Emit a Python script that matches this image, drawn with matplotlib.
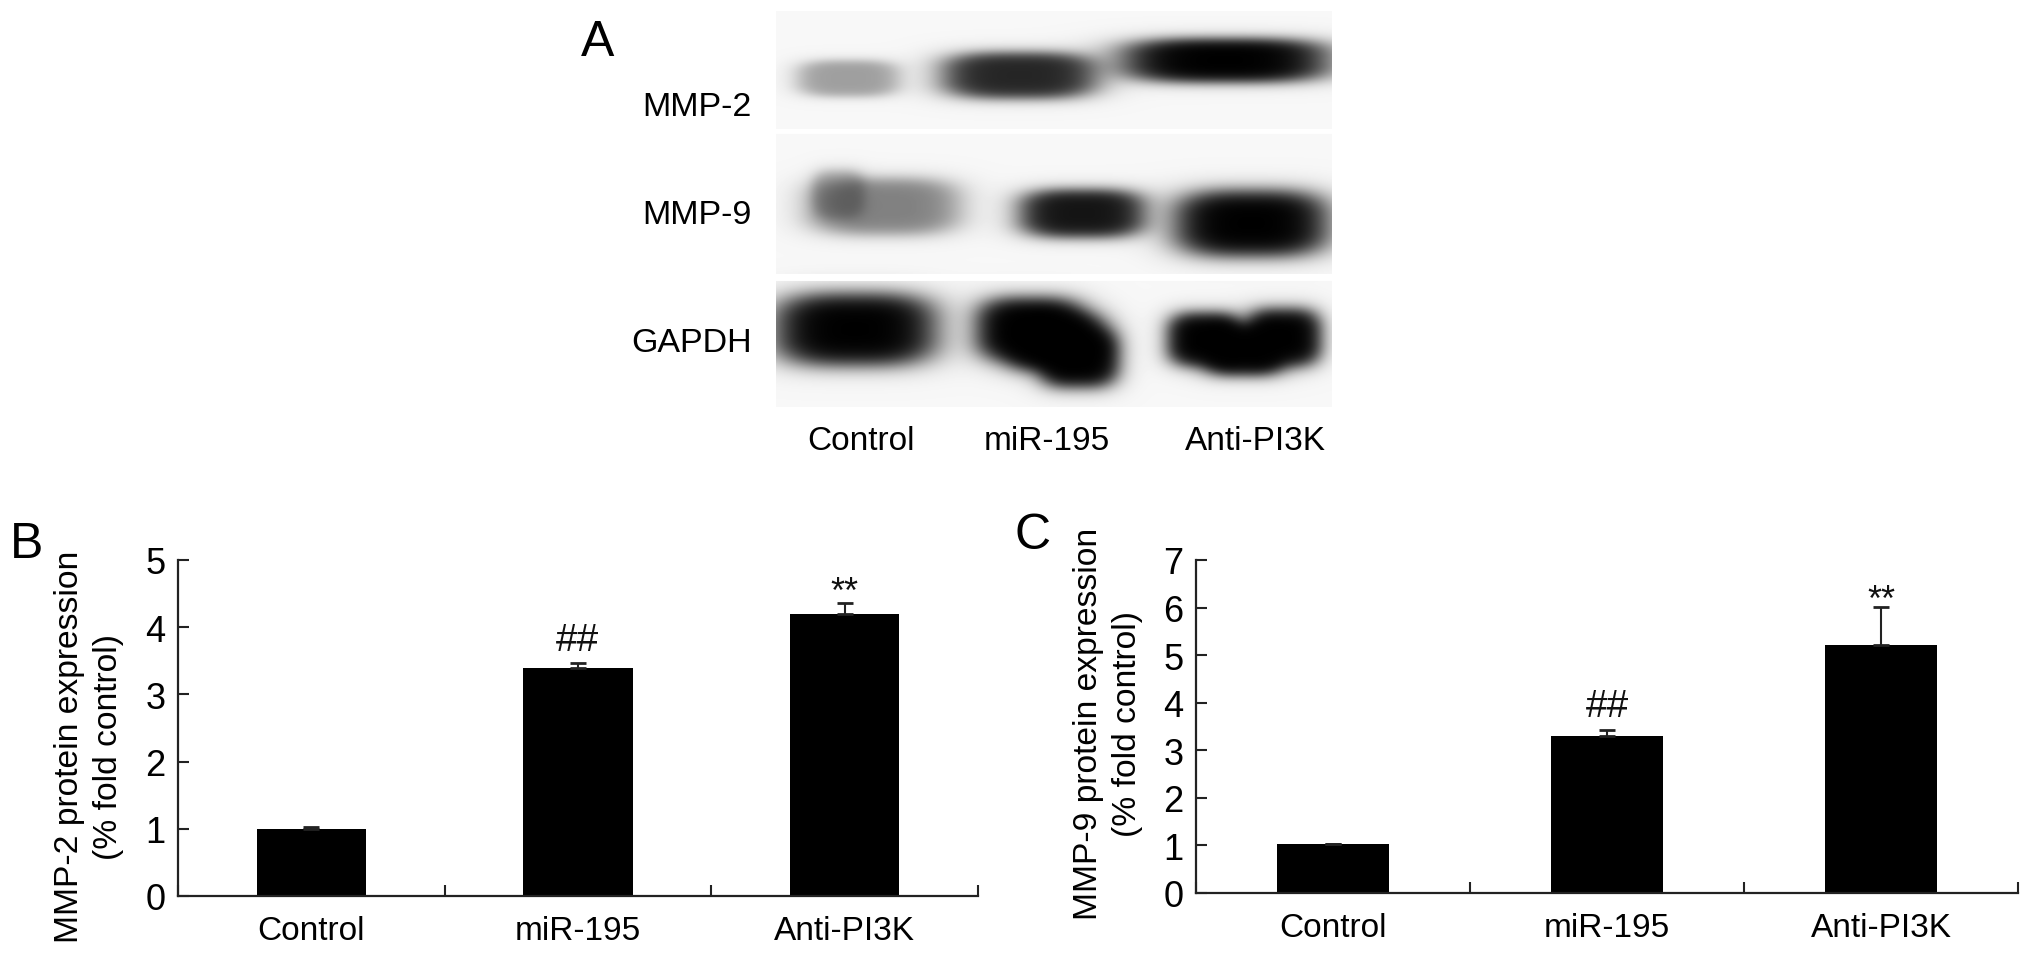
import matplotlib
matplotlib.use('Agg')
import matplotlib.pyplot as plt
import numpy as np

plt.rcParams['font.family'] = ['Liberation Sans', 'DejaVu Sans']

W, H = 2032, 954

groups = ['Control', 'miR-195', 'Anti-PI3K']

mmp2_vals = [1.0, 3.39, 4.19]
mmp2_err = [0.03, 0.08, 0.17]
mmp9_vals = [1.02, 3.31, 5.22]
mmp9_err = [0.0, 0.12, 0.79]

# band blobs of the blot, in figure pixels: x, y, half width, half height, darkness
mmp2_bands = [(848, 79, 50, 18, 0.36),
              (1019, 76, 76, 23, 0.85),
              (1225, 61, 102, 22, 1.0)]
mmp9_bands = [(884, 207, 74, 28, 0.48),
              (838, 195, 26, 24, 0.30),
              (1082, 214, 62, 24, 0.92),
              (1251, 224, 76, 33, 1.0)]
gapdh_bands = [(855, 330, 80, 36, 1.0),
               (1030, 330, 54, 32, 1.0),
               (1055, 342, 50, 30, 1.0),
               (1078, 358, 40, 30, 1.0),
               (1205, 340, 38, 27, 1.0),
               (1283, 338, 38, 29, 1.0),
               (1243, 350, 42, 26, 1.0)]
# blot strips, top and bottom in figure pixels
blot_rows = [(12, 130), (135, 275), (282, 408)]


def axes_at(x0, y0, x1, y1):
    # y0 is the upper edge, all in figure pixels
    return fig.add_axes([x0 / W, 1 - y1 / H, (x1 - x0) / W, (y1 - y0) / H])


def px_text(x, y, s, **kw):
    return fig.text(x / W, 1 - y / H, s, **kw)


def blot_image(x0, y0, x1, y1):
    xx, yy = np.meshgrid(np.arange(x0, x1), np.arange(y0, y1))
    keep = np.ones(xx.shape)
    for cx, cy, hw, hh, amp in mmp2_bands + mmp9_bands + gapdh_bands:
        d = (np.abs((xx - cx) / hw) ** 3 + np.abs((yy - cy) / hh) ** 3) ** (1 / 3)
        keep *= 1 - amp * 0.5 * (1 - np.tanh((d - 1) / 0.3))
    img = np.ones(xx.shape)
    for top, bottom in blot_rows:
        mask = (yy >= top) & (yy < bottom)
        img[mask] = 0.97 * keep[mask]
    return img


def bar_panel(box, vals, errs, ymax, label, letter, letter_xy, label_xy, marks):
    ax = axes_at(*box)
    x = np.arange(3) + 0.5
    ax.bar(x, vals, width=0.41, color='black')
    ax.errorbar(x, vals, yerr=[np.zeros(3), errs], fmt='none', ecolor='#222222',
                elinewidth=1.5, capsize=5.5, capthick=2)
    ax.set_xlim(0, 3)
    ax.set_ylim(0, ymax)
    ax.set_xticks(range(4))
    ax.set_xticklabels([])
    ax.set_xticks(x, minor=True)
    ax.set_xticklabels(groups, minor=True, fontsize=24)
    ax.tick_params(axis='x', which='minor', length=0, pad=14)
    ax.set_yticks(range(ymax + 1))
    ax.tick_params(axis='y', labelsize=26, pad=9)
    ax.tick_params(which='major', direction='in', length=8, width=1.5, color='#222222')
    for side in ['top', 'right']:
        ax.spines[side].set_visible(False)
    for side in ['left', 'bottom']:
        ax.spines[side].set_linewidth(1.6)
        ax.spines[side].set_color('#222222')
    px_text(label_xy[0], label_xy[1], label, rotation=90, ha='center', va='center',
            fontsize=24.2, linespacing=1.35, multialignment='center')
    px_text(letter_xy[0], letter_xy[1], letter, fontsize=36, ha='center', va='center')
    for i, s, y, size in marks:
        ax.text(x[i], y, s, ha='center', va='center', fontsize=size, color='#111111')
    return ax


fig = plt.figure(figsize=(W / 100, H / 100), dpi=100)

# panel A
blot_box = (776, 12, 1332, 408)
ax_a = axes_at(*blot_box)
ax_a.imshow(blot_image(*blot_box), cmap='gray', vmin=0, vmax=1, aspect='auto',
            interpolation='bilinear')
ax_a.axis('off')
px_text(598, 43, 'A', fontsize=36, ha='center', va='center')
for name, y in zip(['MMP-2', 'MMP-9', 'GAPDH'], [108, 216, 344]):
    px_text(752, y, name, fontsize=24.5, ha='right', va='center')
for name, x in zip(groups, [861, 1047, 1255]):
    px_text(x, 441, name, fontsize=24, ha='center', va='center')

# panel B
bar_panel((178, 561, 978, 897), mmp2_vals, mmp2_err, 5,
          'MMP-2 protein expression\n(% fold control)', 'B', (27, 545), (89, 747),
          [(1, '##', 3.81, 28), (2, '**', 4.52, 26)])

# panel C
bar_panel((1196, 561, 2018, 894), mmp9_vals, mmp9_err, 7,
          'MMP-9 protein expression\n(% fold control)', 'C', (1033, 536), (1108, 724),
          [(1, '##', 3.93, 28), (2, '**', 6.16, 26)])

fig.savefig('out.png', dpi=100)
